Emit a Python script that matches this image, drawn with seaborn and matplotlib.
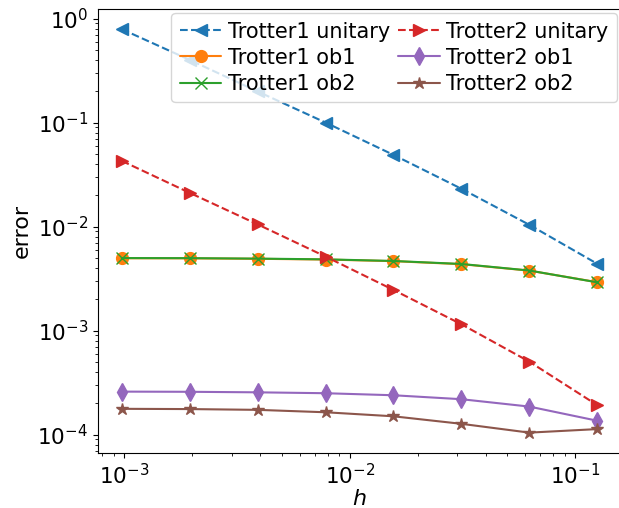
import matplotlib
matplotlib.use('Agg')
import matplotlib.pyplot as plt
import seaborn as sns
import numpy as np
import pandas as pd

# step sizes h = 2^-10 ... 2^-3
h = [0.0009765625, 0.001953125, 0.00390625, 0.0078125,
     0.015625, 0.03125, 0.0625, 0.125]

trotter1_unitary = [0.79, 0.40, 0.199, 0.100, 0.0489, 0.0231, 0.0104, 0.00439]
trotter1_ob1 = [0.00496, 0.00495, 0.00490, 0.00482, 0.00465, 0.00435, 0.00377, 0.00292]
trotter1_ob2 = [0.00498, 0.00497, 0.00492, 0.00484, 0.00467, 0.00437, 0.00378, 0.00291]
trotter2_unitary = [0.0428, 0.0211, 0.0105, 0.00515, 0.00246, 0.00115, 0.000503, 0.000192]
trotter2_ob1 = [0.000259, 0.000258, 0.000255, 0.000250, 0.000239, 0.000219, 0.000186, 0.000136]
trotter2_ob2 = [0.000177, 0.000176, 0.000173, 0.000164, 0.000150, 0.000127, 0.0001045, 0.000113]

series = [
    ('Trotter1 unitary', trotter1_unitary, 'tab:blue', '<', '--'),
    ('Trotter1 ob1', trotter1_ob1, 'tab:orange', 'o', '-'),
    ('Trotter1 ob2', trotter1_ob2, 'tab:green', 'x', '-'),
    ('Trotter2 unitary', trotter2_unitary, 'tab:red', '>', '--'),
    ('Trotter2 ob1', trotter2_ob1, 'tab:purple', 'd', '-'),
    ('Trotter2 ob2', trotter2_ob2, 'tab:brown', '*', '-'),
]

sns.set_style('ticks', {'axes.edgecolor': 'black', 'xtick.color': 'black',
                        'ytick.color': 'black', 'text.color': 'black',
                        'axes.labelcolor': 'black'})
plt.rcParams['font.family'] = ['DejaVu Sans']

fig = plt.figure(figsize=(6.19, 5.08), dpi=100)
ax = fig.add_axes([98 / 619, 1 - 452.8 / 508, 523 / 619, 443.8 / 508])

for name, vals, col, mk, ls in series:
    df = pd.DataFrame({'h': h, 'error': vals})
    ms = 9 if mk in ('d', '*') else 8.5
    sns.lineplot(data=df, x='h', y='error', ax=ax, label=name, color=col,
                 marker=mk, linestyle=ls, markersize=ms, linewidth=1.5,
                 markeredgecolor=col, markeredgewidth=1.0)

ax.set_xscale('log')
ax.set_yscale('log')
ax.set_xlabel('$h$', fontsize=16, labelpad=1)
ax.set_ylabel('error', fontsize=16)
ax.tick_params(axis='both', which='major', labelsize=15.5)
ax.spines['right'].set_visible(False)

ax.legend(ncol=2, loc='upper right', fontsize=15, borderaxespad=0.2,
          handletextpad=0.3, columnspacing=0.4, labelspacing=0.3)

fig.savefig('out.png', dpi=100)
